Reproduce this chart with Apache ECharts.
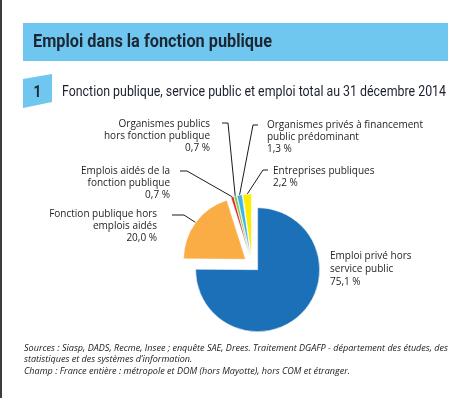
<!DOCTYPE html>
<html>
<head>
<meta charset="utf-8">
<script src="https://cdn.jsdelivr.net/npm/echarts@6/dist/echarts.min.js"></script>
<style>
  html, body { margin: 0; padding: 0; background: #fff; }
  #chart { width: 471px; height: 398px; }
</style>
</head>
<body>
<div id="chart"></div>
<script>
// données
const categories = [
  'Emploi privé hors\nservice public',
  'Fonction publique hors\nemplois aidés',
  'Emplois aidés de la\nfonction publique',
  'Organismes publics\nhors fonction publique',
  'Organismes privés à financement\npublic prédominant',
  'Entreprises publiques'
];
const values = [75.1, 20.0, 0.7, 0.7, 1.3, 2.2];
const colors = ['#1b70b8', '#fbad45', '#d9262e', '#8cc43f', '#3cb4e6', '#ffec00'];

const titleText = 'Emploi dans la fonction publique';
const subtitleText = 'Fonction publique, service public et emploi total au 31 décembre 2014';
const notes = [
  'Sources : Siasp, DADS, Recme, Insee ; enquête SAE, Drees. Traitement DGAFP - département des études, des',
  'statistiques et des systèmes d\u2019information.',
  'Champ : France entière : métropole et DOM (hors Mayotte), hors COM et étranger.'
];

// géométrie du camembert et placement des étiquettes
const CENTER = [252, 264];
const RADIUS = 62;
const EXPLODE = 8;
const labelPlaces = [
  { x: 330, y: 249.5, align: 'left', lh: 13 },
  { x: 157, y: 208, align: 'right', elbow: [184, 215], end: [172, 215] },
  { x: 170, y: 165, align: 'right', elbow: [187, 171], end: [180, 171] },
  { x: 210, y: 118, align: 'right', elbow: [228, 123], end: [222, 123] },
  { x: 267, y: 119, align: 'left', elbow: [253, 125], end: [258, 125] },
  { x: 273, y: 165, align: 'left', elbow: [263, 170], end: [268, 170] }
];

const fmt = (v) => v.toFixed(1).replace('.', ',') + ' %';

// mesure pour ajuster la largeur des textes condensés
const ctx = document.createElement('canvas').getContext('2d');
const fitScale = (text, font, width) => {
  ctx.font = font;
  return width / ctx.measureText(text).width;
};

const titleFont = 'bold 18px Roboto, sans-serif';
const subFont = '14px Roboto, sans-serif';
const noteFont = 'italic 8.5px "Open Sans", sans-serif';
const labelFont = '10px "Open Sans", sans-serif';
const noteScale = fitScale(notes[0], noteFont, 424);

const chart = echarts.init(document.getElementById('chart'));

const graphics = [
  { type: 'rect', left: 0, top: 0, shape: { width: 2, height: 398 }, style: { fill: '#3c3c3c' } },
  { type: 'rect', left: 23, top: 23, shape: { width: 425, height: 38 }, style: { fill: '#6fc6ef' } },
  {
    type: 'text', x: 33, y: 42, scaleX: fitScale(titleText, titleFont, 239),
    style: { text: titleText, fill: '#1c2733', verticalAlign: 'middle', font: titleFont }
  },
  {
    type: 'polygon',
    shape: { points: [[23, 79], [52, 74], [52, 102], [23, 108]] },
    style: { fill: '#6fc6ef' }
  },
  {
    type: 'text', x: 37.5, y: 92.5, scaleX: 0.85,
    style: { text: '1', fill: '#1c2733', align: 'center', verticalAlign: 'middle', font: 'bold 16px Roboto, sans-serif' }
  },
  {
    type: 'text', x: 62, y: 92.5, scaleX: fitScale(subtitleText, subFont, 384),
    style: { text: subtitleText, fill: '#1c2030', verticalAlign: 'middle', font: subFont }
  }
];

[348.3, 359.3, 371.7].forEach((y, i) => {
  graphics.push({
    type: 'text', x: 24, y: y, scaleX: noteScale,
    style: { text: notes[i], fill: '#1a1a1a', verticalAlign: 'middle', font: noteFont }
  });
});

categories.forEach((name, i) => {
  const p = labelPlaces[i];
  graphics.push({
    type: 'text', x: p.x, y: p.y,
    style: {
      text: name + '\n' + fmt(values[i]),
      fill: '#1e1e1e', align: p.align, verticalAlign: 'top',
      lineHeight: p.lh || 12, font: labelFont
    }
  });
});

const option = {
  animation: false,
  graphic: graphics,
  series: [
    {
      type: 'pie',
      center: CENTER,
      radius: RADIUS,
      startAngle: 90,
      clockwise: true,
      selectedMode: 'multiple',
      selectedOffset: EXPLODE,
      emphasis: { disabled: true },
      itemStyle: { borderColor: '#fff', borderWidth: 0.5 },
      label: {
        show: true,
        position: 'outside',
        color: 'rgba(0,0,0,0)',
        fontSize: 10,
        formatter: (p) => p.name + '\n' + fmt(p.value)
      },
      labelLine: {
        show: true,
        lineStyle: { color: '#1a1a1a', width: 1 }
      },
      labelLayout: (params) => {
        const place = labelPlaces[params.dataIndex];
        if (!place.elbow || !params.labelLinePoints) return {};
        // les traits sont dans le repère du secteur (non décalé)
        const a = params.labelLinePoints[0];
        const dx = a[0] - CENTER[0];
        const dy = a[1] - CENTER[1];
        const len = Math.sqrt(dx * dx + dy * dy) || 1;
        const ox = EXPLODE * dx / len;
        const oy = EXPLODE * dy / len;
        return {
          labelLinePoints: [
            a,
            [place.elbow[0] - ox, place.elbow[1] - oy],
            [place.end[0] - ox, place.end[1] - oy]
          ]
        };
      },
      data: categories.map((name, i) => ({
        name: name,
        value: values[i],
        selected: true,
        itemStyle: { color: colors[i] },
        labelLine: labelPlaces[i].elbow ? undefined : { show: false }
      }))
    }
  ]
};

chart.setOption(option);
</script>
</body>
</html>
